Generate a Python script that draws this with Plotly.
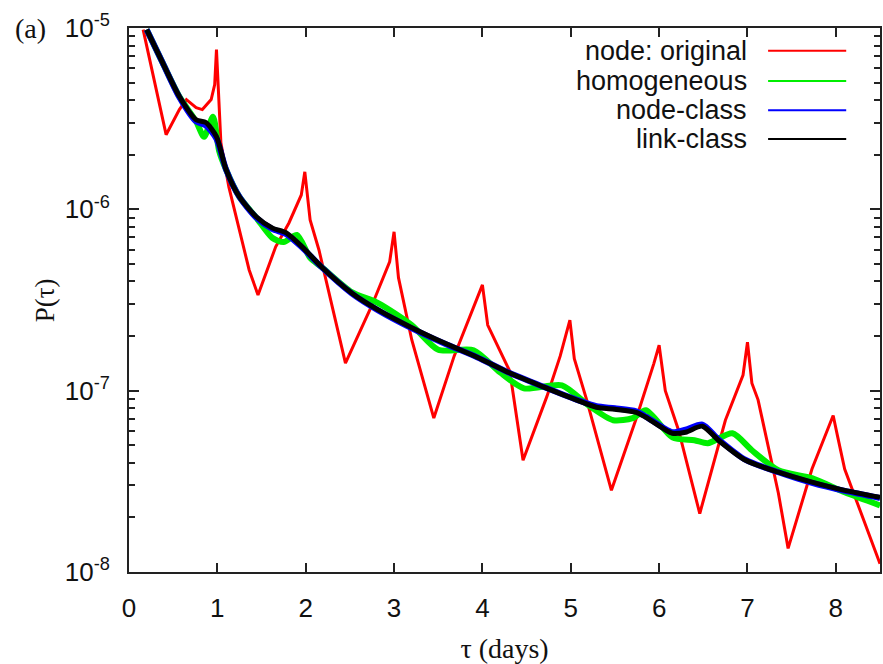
import plotly.graph_objects as go

# ---- data ----
red_x = [0.16, 0.42, 0.57, 0.65, 0.76, 0.83, 0.93, 0.97, 0.99, 1.04, 1.13, 1.36, 1.46,
         1.66, 1.81, 1.95, 1.99, 2.05, 2.15, 2.29, 2.45,
         2.75, 2.95, 3.0, 3.05, 3.2, 3.45,
         3.68, 3.94, 4.0, 4.06, 4.31, 4.46,
         4.73, 4.88, 4.99, 5.04, 5.18, 5.46,
         5.74, 5.94, 6.0, 6.07, 6.22, 6.46,
         6.75, 6.95, 7.0, 7.05, 7.12, 7.35, 7.46,
         7.73, 7.91, 7.97, 8.02, 8.1, 8.33, 8.46, 8.5]
red_y = [9.8e-6, 2.58e-6, 3.55e-6, 4.03e-6, 3.64e-6, 3.55e-6, 4.03e-6, 4.87e-6, 7.6e-6,
         2.33e-6, 1.33e-6, 4.63e-7, 3.37e-7,
         6.21e-7, 8.41e-7, 1.2e-6, 1.61e-6, 8.75e-7, 5.97e-7, 3.04e-7, 1.42e-7,
         2.96e-7, 5.13e-7, 7.52e-7, 4.2e-7, 1.91e-7, 7.06e-8,
         1.55e-7, 3.2e-7, 3.83e-7, 2.3e-7, 1.28e-7, 4.13e-8,
         9.3e-8, 1.55e-7, 2.45e-7, 1.5e-7, 8.9e-8, 2.82e-8,
         7.0e-8, 1.41e-7, 1.78e-7, 1.0e-7, 6.05e-8, 2.1e-8,
         6.87e-8, 1.22e-7, 1.85e-7, 1.1e-7, 8.9e-8, 2.72e-8, 1.35e-8,
         3.7e-8, 6.05e-8, 7.3e-8, 5.6e-8, 3.7e-8, 1.85e-8, 1.23e-8, 1.11e-8]

black_x = [0.2, 0.38, 0.57, 0.76, 0.87, 0.99, 1.1, 1.25, 1.44, 1.62, 1.78, 1.96, 2.18,
           2.52, 2.82, 3.19, 3.57, 3.94, 4.31, 4.69, 5.07, 5.29, 5.5, 5.74, 5.85, 6.15,
           6.3, 6.49, 6.67, 6.98, 7.35, 7.73, 8.1, 8.5]
black_y = [9.8e-6, 6.44e-6, 4.19e-6, 3.12e-6, 3.01e-6, 2.52e-6, 1.65e-6, 1.17e-6, 9.1e-7,
           7.9e-7, 7.41e-7, 6.21e-7, 4.81e-7, 3.46e-7, 2.79e-7, 2.24e-7, 1.83e-7, 1.53e-7,
           1.25e-7, 1.05e-7, 8.87e-8, 8.1e-8, 7.9e-8, 7.6e-8, 7.14e-8, 5.82e-8,
           5.9e-8, 6.37e-8, 5.33e-8, 4.13e-8, 3.55e-8, 3.13e-8, 2.82e-8, 2.58e-8]

blue_x = black_x
blue_y = [9.8e-6, 6.44e-6, 4.15e-6, 3.05e-6, 2.9e-6, 2.45e-6, 1.65e-6, 1.17e-6, 9.0e-7,
          7.8e-7, 7.3e-7, 6.15e-7, 4.8e-7, 3.44e-7, 2.77e-7, 2.22e-7, 1.82e-7, 1.53e-7,
          1.25e-7, 1.05e-7, 8.9e-8, 8.2e-8, 8.0e-8, 7.7e-8, 7.2e-8, 5.9e-8,
          6.1e-8, 6.5e-8, 5.4e-8, 4.15e-8, 3.55e-8, 3.1e-8, 2.8e-8, 2.56e-8]

green_x = [0.2, 0.38, 0.57, 0.76, 0.85, 0.95, 1.02, 1.1, 1.25, 1.44, 1.62, 1.75, 1.9, 2.05,
           2.18, 2.52, 2.82, 3.2, 3.5, 3.9, 4.2, 4.47, 4.9, 5.2, 5.48, 5.7, 5.85, 6.15,
           6.4, 6.55, 6.83, 7.05, 7.35, 7.73, 8.1, 8.5]
green_y = [9.8e-6, 6.44e-6, 4.19e-6, 3.05e-6, 2.51e-6, 3.24e-6, 2.1e-6, 1.65e-6, 1.17e-6,
           9.0e-7, 6.97e-7, 6.6e-7, 7.22e-7, 5.4e-7, 4.81e-7, 3.5e-7, 3.04e-7, 2.3e-7,
           1.68e-7, 1.67e-7, 1.26e-7, 1.03e-7, 1.07e-7, 8.3e-8, 6.87e-8, 7.05e-8, 7.8e-8,
           5.53e-8, 5.33e-8, 5.13e-8, 5.82e-8, 4.69e-8, 3.64e-8, 3.29e-8, 2.75e-8, 2.33e-8]

series_names = ["node: original", "homogeneous", "node-class", "link-class"]
series_colors = ["#ff0000", "#00ee00", "#0000ff", "#000000"]
series_widths = [3, 6, 6, 5]
series_shapes = ["linear", "spline", "spline", "spline"]

x_tick_vals = [0, 1, 2, 3, 4, 5, 6, 7, 8]
y_tick_vals = [1e-8, 1e-7, 1e-6, 1e-5]
y_tick_text = ["10<sup>-8</sup>", "10<sup>-7</sup>", "10<sup>-6</sup>", "10<sup>-5</sup>"]
y_minor_vals = [m * d for d in (1e-8, 1e-7, 1e-6) for m in range(2, 10)]

# ---- figure ----
fig = go.Figure()
data = [(red_x, red_y), (green_x, green_y), (blue_x, blue_y), (black_x, black_y)]
for (xs, ys), name, col, w, shp in zip(data, series_names, series_colors, series_widths, series_shapes):
    fig.add_trace(go.Scatter(x=xs, y=ys, mode="lines", name=name,
                             line=dict(color=col, width=w, shape=shp, smoothing=0.7),
                             showlegend=False))
# invisible carriers so the minor-tick overlay axes get drawn
for ax in ("y2", "y3"):
    fig.add_trace(go.Scatter(x=black_x, y=black_y, yaxis=ax, mode="lines",
                             line=dict(width=0, color="rgba(0,0,0,0)"),
                             hoverinfo="skip", showlegend=False))

# manual legend (text left of sample line, as in the original)
leg_rows = [0.958, 0.9026, 0.849, 0.796]
for name, col, yr in zip(series_names, series_colors, leg_rows):
    fig.add_annotation(x=0.826, y=yr, xref="paper", yref="paper", text=name,
                       showarrow=False, xanchor="right", yanchor="middle",
                       font=dict(family="Liberation Sans, Arial", size=27, color="#111"))
    fig.add_shape(type="line", xref="paper", yref="paper", x0=0.851, x1=0.955, y0=yr, y1=yr,
                  line=dict(color=col, width=2))

axis_col = "#222222"
tick_font = dict(family="Liberation Sans, Arial", size=26, color="#111")
fig.update_layout(
    xaxis=dict(range=[0, 8.5], tickvals=x_tick_vals, ticks="inside", ticklen=9,
               tickwidth=2, tickcolor=axis_col, showline=True, linecolor=axis_col,
               linewidth=2, mirror="ticks", showgrid=False, zeroline=False,
               ticklabelstandoff=12, tickfont=tick_font,
               title=dict(text="τ (days)", standoff=16,
                          font=dict(family="Liberation Serif, Times New Roman", size=28, color="#111"))),
    yaxis=dict(type="log", range=[-8, -5], tickvals=y_tick_vals, ticktext=y_tick_text,
               ticks="inside", ticklen=10, tickwidth=2, tickcolor=axis_col,
               showline=True, linecolor=axis_col, linewidth=2, mirror="ticks",
               showgrid=False, zeroline=False, ticklabelstandoff=12, tickfont=tick_font),
    yaxis2=dict(type="log", range=[-8, -5], overlaying="y", side="left", anchor="x",
                tickvals=y_minor_vals, ticks="inside", ticklen=6, tickwidth=2,
                tickcolor=axis_col, showticklabels=False, showline=False,
                showgrid=False, zeroline=False),
    yaxis3=dict(type="log", range=[-8, -5], overlaying="y", side="right", anchor="x",
                tickvals=y_minor_vals, ticks="inside", ticklen=6, tickwidth=2,
                tickcolor=axis_col, showticklabels=False, showline=False,
                showgrid=False, zeroline=False),
)

fig.add_annotation(x=(28 - 129) / 753, y=0.5, xref="paper", yref="paper", text="P(τ)",
                   showarrow=False, textangle=-90,
                   font=dict(family="Liberation Serif, Times New Roman", size=27, color="#111"))
fig.add_annotation(x=-0.155, y=1.0, xref="paper", yref="paper", text="(a)", showarrow=False,
                   xanchor="left", yanchor="middle",
                   font=dict(family="Liberation Serif, Times New Roman", size=28, color="#111"))

fig.update_layout(width=883, height=664, margin=dict(l=129, r=1, t=28, b=92),
                  plot_bgcolor="white", paper_bgcolor="white")

fig.write_html("out.html")
